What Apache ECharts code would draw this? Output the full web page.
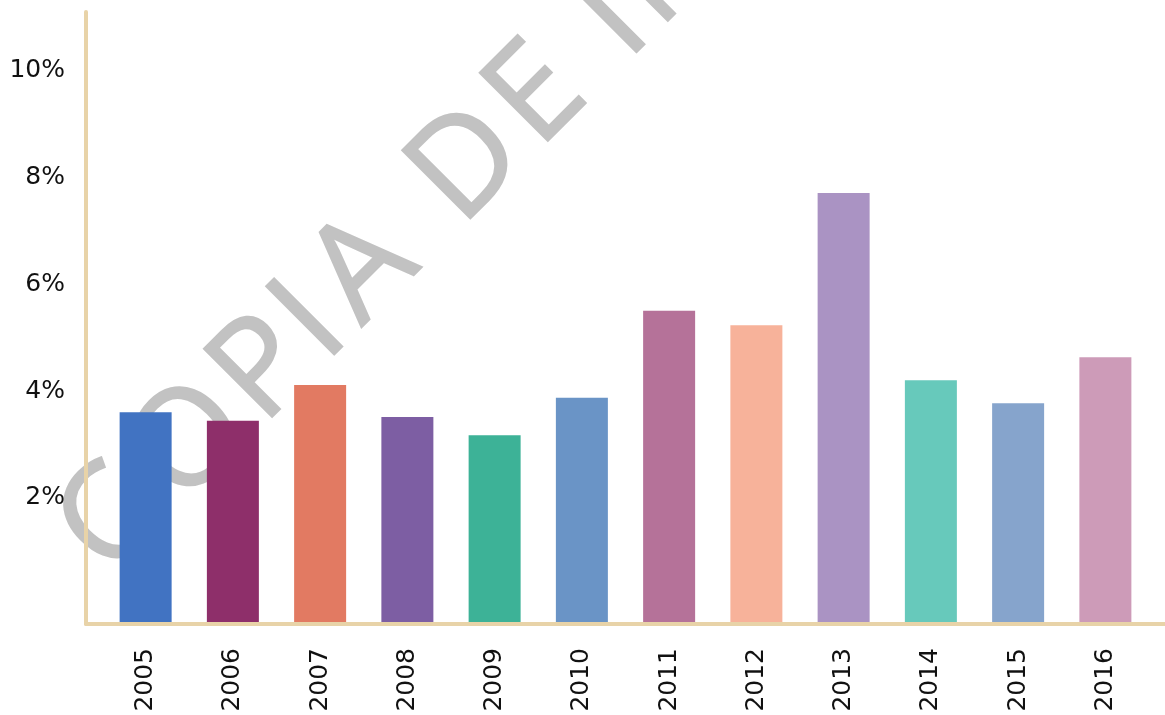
<!DOCTYPE html>
<html>
<head>
<meta charset="utf-8">
<script src="https://cdn.jsdelivr.net/npm/echarts@6/dist/echarts.min.js"></script>
<style>
  html, body { margin: 0; padding: 0; background: #ffffff; }
  #chart { width: 1165px; height: 715px; }
</style>
</head>
<body>
<div id="chart"></div>
<script>
// Annual rate by year (percent)
const years = ['2005', '2006', '2007', '2008', '2009', '2010', '2011', '2012', '2013', '2014', '2015', '2016'];
const rates = [3.93, 3.77, 4.44, 3.84, 3.50, 4.20, 5.83, 5.56, 8.04, 4.53, 4.10, 4.96];
const barColors = ['#4173C2', '#8E2F6A', '#E27A62', '#7D5EA3', '#3DB297', '#6A94C6',
                   '#B57299', '#F7B29A', '#AA93C3', '#67C9BB', '#86A4CC', '#CD9BB8'];
const yTickValues = [2, 4, 6, 8, 10];
const watermarkText = 'COPIA DE IMPRESIÓN';

const axisColor = '#E8D3A8';
const labelFont = 'DejaVu Sans';

// Diagonal watermark: letters set one by one along a 45° baseline.
// Offsets are measured along the baseline, in px, from its anchor point.
const wmAnchor = [345.5, 345.5];
const wmMid = 40;                 // em-middle height above the baseline
const wmOffsets = [-290, -178, -75, -8.5, 67, null, 214, 312, null, 419, 505, 600, 680, 760, 830, 880, 940, 1030];

function watermarkGraphics() {
  const r = Math.SQRT1_2;
  const items = [];
  watermarkText.split('').forEach(function (ch, i) {
    const s = wmOffsets[i];
    if (ch === ' ' || s == null) return;
    items.push({
      type: 'text',
      z: -10,
      silent: true,
      x: wmAnchor[0] + (s - wmMid) * r,
      y: wmAnchor[1] - (s + wmMid) * r,
      rotation: Math.PI / 4,
      style: {
        text: ch,
        font: '135px "Open Sans"',
        fill: '#C2C2C2',
        stroke: '#C2C2C2',
        lineWidth: 2,
        lineJoin: 'round',
        align: 'center',
        verticalAlign: 'middle'
      }
    });
  });
  return items;
}

const chart = echarts.init(document.getElementById('chart'), null, { renderer: 'canvas' });

chart.setOption({
  animation: false,
  backgroundColor: '#ffffff',
  grid: [
    { left: 102, right: 16, top: 12, bottom: 93 },   // plot area for the bars
    { left: 86, right: 0, top: 12, bottom: 91 }      // frame carrying the two axis lines
  ],
  xAxis: [
    {
      type: 'category',
      gridIndex: 0,
      data: years,
      axisLine: { show: false },
      axisTick: { show: false },
      axisLabel: {
        rotate: 90,
        margin: 26,
        fontFamily: labelFont,
        fontSize: 25,
        color: '#111111'
      }
    },
    {
      type: 'value',
      gridIndex: 1,
      min: 0,
      max: 1,
      axisLine: { show: true, lineStyle: { color: axisColor, width: 4 } },
      axisTick: { show: false },
      axisLabel: { show: false },
      splitLine: { show: false }
    }
  ],
  yAxis: [
    {
      type: 'value',
      gridIndex: 0,
      min: 0,
      max: 11.43,
      interval: 2,
      offset: 16,
      axisLine: { show: false },
      axisTick: { show: false },
      splitLine: { show: false },
      axisLabel: {
        showMaxLabel: false,
        margin: 21,
        lineHeight: 35,
        fontFamily: labelFont,
        fontSize: 25,
        color: '#111111',
        // each label sits half a line above its tick
        formatter: function (v) {
          return yTickValues.indexOf(v) >= 0 ? v + '%\n ' : '';
        }
      }
    },
    {
      type: 'value',
      gridIndex: 1,
      min: 0,
      max: 1,
      axisLine: { show: true, lineStyle: { color: axisColor, width: 4 } },
      axisTick: { show: false },
      axisLabel: { show: false },
      splitLine: { show: false }
    }
  ],
  graphic: watermarkGraphics(),
  series: [
    {
      type: 'bar',
      xAxisIndex: 0,
      yAxisIndex: 0,
      barWidth: 52,
      data: rates.map(function (v, i) {
        return { value: v, itemStyle: { color: barColors[i] } };
      })
    }
  ]
});
</script>
</body>
</html>
